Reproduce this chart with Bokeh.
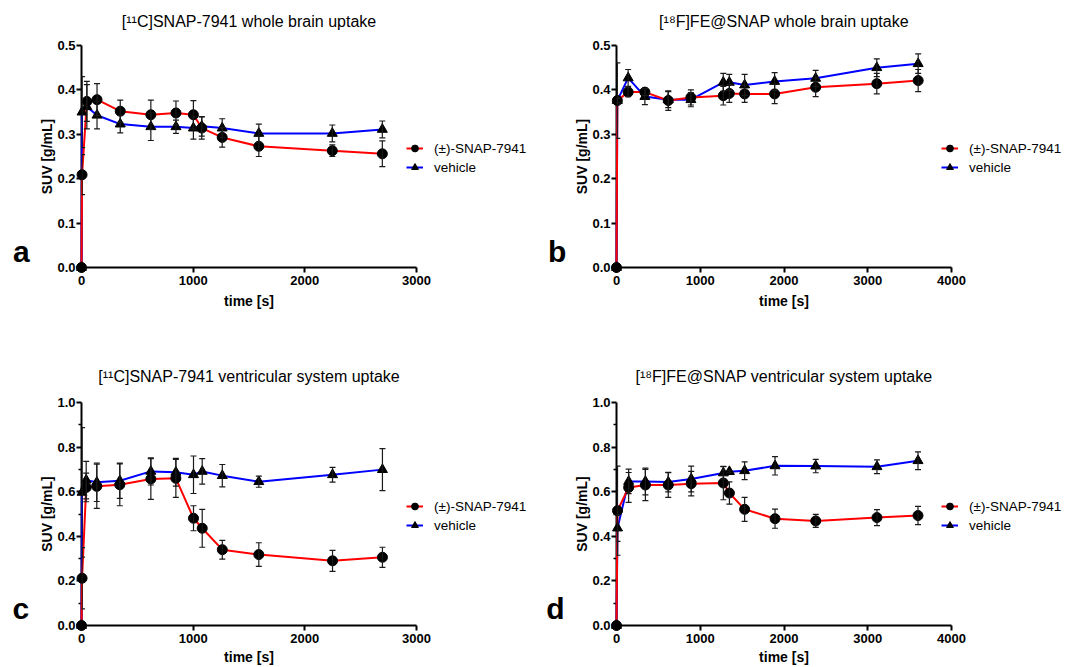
from bokeh.plotting import figure
from bokeh.layouts import column, row
from bokeh.models import (Range1d, FixedTicker, PrintfTickFormatter, Whisker, TeeHead,
                          ColumnDataSource, Label, Legend, LegendItem, Title)
from bokeh.embed import file_html
from bokeh.resources import INLINE

FONT = "Liberation Sans"
RED = "#ff0000"
BLUE = "#0000ff"

series_labels = ["(±)-SNAP-7941", "vehicle"]

# ---- panel a : [11C]SNAP-7941 whole brain ----
a_time = [0, 5, 48, 139, 347, 621, 846, 1002, 1077, 1260, 1588, 2246, 2694]
a_snap = [0.0, 0.209, 0.374, 0.378, 0.352, 0.344, 0.348, 0.344, 0.314, 0.293, 0.273, 0.263, 0.256]
a_snap_sd = [0.0, 0.045, 0.045, 0.036, 0.025, 0.033, 0.027, 0.032, 0.025, 0.022, 0.023, 0.013, 0.029]
a_veh = [0.0, 0.350, 0.362, 0.343, 0.323, 0.317, 0.317, 0.314, 0.318, 0.314, 0.302, 0.302, 0.311]
a_veh_sd = [0.0, 0.080, 0.050, 0.031, 0.020, 0.031, 0.015, 0.025, 0.022, 0.021, 0.021, 0.019, 0.019]

# ---- panel b : [18F]FE@SNAP whole brain ----
b_time = [0, 10, 139, 339, 618, 888, 1275, 1347, 1530, 1888, 2378, 3108, 3602]
b_snap = [0.0, 0.376, 0.395, 0.395, 0.376, 0.383, 0.387, 0.392, 0.391, 0.391, 0.406, 0.414, 0.421]
b_snap_sd = [0.0, 0.005, 0.010, 0.008, 0.022, 0.017, 0.021, 0.020, 0.019, 0.022, 0.021, 0.023, 0.025]
b_veh = [0.0, 0.376, 0.427, 0.385, 0.378, 0.378, 0.417, 0.417, 0.411, 0.419, 0.426, 0.450, 0.459]
b_veh_sd = [0.0, 0.085, 0.019, 0.018, 0.018, 0.016, 0.020, 0.018, 0.024, 0.020, 0.018, 0.020, 0.022]

# ---- panel c : [11C]SNAP-7941 ventricular system ----
c_time = [0, 5, 42, 137, 343, 621, 845, 1003, 1081, 1261, 1588, 2248, 2695]
c_snap = [0.0, 0.212, 0.619, 0.624, 0.631, 0.657, 0.660, 0.481, 0.436, 0.340, 0.318, 0.290, 0.306]
c_snap_sd = [0.0, 0.137, 0.064, 0.099, 0.094, 0.091, 0.085, 0.056, 0.085, 0.042, 0.053, 0.047, 0.045]
c_veh = [0.0, 0.597, 0.652, 0.642, 0.649, 0.691, 0.687, 0.676, 0.691, 0.672, 0.645, 0.676, 0.699]
c_veh_sd = [0.0, 0.290, 0.084, 0.086, 0.079, 0.061, 0.062, 0.084, 0.057, 0.050, 0.025, 0.033, 0.094]

# ---- panel d : [18F]FE@SNAP ventricular system ----
d_time = [0, 12, 145, 345, 618, 892, 1276, 1348, 1530, 1893, 2379, 3110, 3600]
d_snap = [0.0, 0.515, 0.619, 0.630, 0.630, 0.636, 0.639, 0.594, 0.521, 0.479, 0.469, 0.484, 0.493]
d_snap_sd = [0.0, 0.200, 0.067, 0.070, 0.055, 0.055, 0.075, 0.050, 0.054, 0.043, 0.029, 0.036, 0.041]
d_veh = [0.0, 0.437, 0.646, 0.646, 0.643, 0.657, 0.684, 0.690, 0.694, 0.716, 0.715, 0.712, 0.739]
d_veh_sd = [0.0, 0.060, 0.055, 0.060, 0.044, 0.058, 0.028, 0.005, 0.040, 0.041, 0.030, 0.031, 0.040]

titles = ["[¹¹C]SNAP-7941 whole brain uptake", "[¹⁸F]FE@SNAP whole brain uptake",
          "[¹¹C]SNAP-7941 ventricular system uptake", "[¹⁸F]FE@SNAP ventricular system uptake"]
letters = ["a", "b", "c", "d"]
x_ticks_11c = [0, 1000, 2000, 3000]
x_ticks_18f = [0, 1000, 2000, 3000, 4000]
y_ticks_top = [0.0, 0.1, 0.2, 0.3, 0.4, 0.5]
y_ticks_bottom = [0.0, 0.2, 0.4, 0.6, 0.8, 1.0]
y_minor_bottom = [0.1, 0.3, 0.5, 0.7, 0.9]
y_label = "SUV [g/mL]"
x_label = "time [s]"

# Arial / Liberation Sans Bold advance widths (1/1000 em), used to centre axis titles
BOLD_W = {"S": 667, "U": 722, "V": 667, " ": 278, "[": 333, "]": 333, "g": 611, "/": 278,
          "m": 889, "L": 611, "t": 333, "i": 278, "e": 556, "s": 556}


def text_width(s, size):
    return sum(BOLD_W[ch] for ch in s) * size / 1000.0


AXIS_PX = 335          # length of the drawn x axis in pixels


def whisker_source(t, v, sd):
    xs, lo, hi = [], [], []
    for ti, vi, si in zip(t, v, sd):
        if si > 0:
            xs.append(ti)
            lo.append(vi - si)
            hi.append(vi + si)
    return ColumnDataSource(dict(x=xs, lower=lo, upper=hi))


def letter_fig(letter, width, height, lx, ly):
    f = figure(frame_width=width, frame_height=height, output_backend="svg",
               toolbar_location=None, x_axis_type=None, y_axis_type=None,
               x_range=Range1d(0, width), y_range=Range1d(0, height),
               min_border=0, min_border_left=0, min_border_right=0,
               min_border_top=0, min_border_bottom=0)
    f.outline_line_color = None
    f.grid.visible = False
    f.add_layout(Label(x=lx, y=ly, text=letter, text_align="left", text_baseline="alphabetic",
                       text_font=FONT, text_font_size="30px", text_font_style="bold",
                       text_color="black"))
    return f


def panel(t, snap, snap_sd, veh, veh_sd, xticks, yticks, yminor, title,
          width, height, left, bottom, axis_top_px, xlab_standoff, title_off):
    frame_w = width - left
    frame_h = height - bottom
    axis_h = frame_h - axis_top_px
    x_end = xticks[-1] * frame_w / AXIS_PX
    y_end = yticks[-1] * frame_h / axis_h
    p = figure(width=width, height=height, output_backend="svg", toolbar_location=None,
               x_range=Range1d(xticks[0], x_end), y_range=Range1d(yticks[0], y_end),
               min_border_left=left, min_border_right=0,
               min_border_top=0, min_border_bottom=bottom)
    p.outline_line_color = None
    p.xgrid.visible = False
    p.ygrid.visible = False

    for ax in (p.xaxis[0], p.yaxis[0]):
        ax.axis_line_width = 2
        ax.axis_line_color = "black"
        ax.major_tick_line_width = 2
        ax.major_tick_line_color = "black"
        ax.major_tick_out = 5
        ax.major_tick_in = 0
        ax.minor_tick_in = 0
        ax.minor_tick_out = 3
        ax.minor_tick_line_width = 1.5
        ax.minor_tick_line_color = "black"
        ax.major_label_text_font = FONT
        ax.major_label_text_font_style = "bold"
        ax.major_label_text_font_size = "13px"
        ax.major_label_text_color = "black"

    p.xaxis.ticker = FixedTicker(ticks=xticks, minor_ticks=[])
    p.xaxis.formatter = PrintfTickFormatter(format="%d")
    p.xaxis.major_label_standoff = 3
    p.xaxis.bounds = (xticks[0], xticks[-1])
    p.yaxis.ticker = FixedTicker(ticks=yticks, minor_ticks=yminor)
    p.yaxis.formatter = PrintfTickFormatter(format="%.1f")
    p.yaxis.major_label_standoff = 1
    p.yaxis.bounds = (yticks[0], yticks[-1])

    # axis titles, centred on the drawn axes
    ylab_off = axis_h / 2 - text_width(y_label, 14) / 2
    p.add_layout(Title(text=y_label, align="left", offset=ylab_off, standoff=0,
                       text_font=FONT, text_font_size="14px", text_font_style="bold",
                       text_color="black"), "left")
    xlab_off = AXIS_PX / 2 - text_width(x_label, 14) / 2
    p.add_layout(Title(text=x_label, align="left", offset=xlab_off, standoff=xlab_standoff,
                       text_font=FONT, text_font_size="14px", text_font_style="bold",
                       text_color="black"), "below")

    blue_line = p.line(t, veh, line_color=BLUE, line_width=2, level="overlay")
    red_line = p.line(t, snap, line_color=RED, line_width=2, level="overlay")

    for src in (whisker_source(t, veh, veh_sd), whisker_source(t, snap, snap_sd)):
        w = Whisker(source=src, base="x", lower="lower", upper="upper",
                    line_color="#1a1a1a", line_width=1.2, level="overlay",
                    upper_head=TeeHead(size=6, line_color="#1a1a1a", line_width=1.2),
                    lower_head=TeeHead(size=6, line_color="#1a1a1a", line_width=1.2))
        p.add_layout(w)

    blue_pts = p.scatter(t, veh, marker="triangle", size=10, fill_color="black",
                         line_color="black", level="overlay")
    red_pts = p.scatter(t, snap, marker="circle", size=10, fill_color="black",
                        line_color="black", level="overlay")

    legend = Legend(items=[LegendItem(label=series_labels[0], renderers=[red_line, red_pts]),
                           LegendItem(label=series_labels[1], renderers=[blue_line, blue_pts])],
                    location=(325, 91), padding=0, margin=0, spacing=1,
                    glyph_width=17, glyph_height=18, label_height=18, label_standoff=11,
                    label_text_font=FONT, label_text_font_size="13.5px",
                    label_text_color="black",
                    border_line_color=None, background_fill_alpha=0)
    p.add_layout(legend)

    p.add_layout(Label(x=xticks[-1] / 2, y=yticks[-1], y_offset=title_off, text=title,
                       text_align="center", text_baseline="alphabetic", text_font=FONT,
                       text_font_size="16px", text_color="black"))
    return p


fa = letter_fig(letters[0], 34, 330, 12.6, 79)
pa = panel(a_time, a_snap, a_snap_sd, a_veh, a_veh_sd, x_ticks_11c, y_ticks_top, [],
           titles[0], 506, 330, 47, 63, 45, 6, 24)
fb = letter_fig(letters[1], 28, 330, 7.4, 79)
pb = panel(b_time, b_snap, b_snap_sd, b_veh, b_veh_sd, x_ticks_18f, y_ticks_top, [],
           titles[1], 512, 330, 48, 63, 45, 6, 24)
fc = letter_fig(letters[2], 34, 336, 12, 58)
pc = panel(c_time, c_snap, c_snap_sd, c_veh, c_veh_sd, x_ticks_11c, y_ticks_bottom, y_minor_bottom,
           titles[2], 506, 336, 47, 41, 72, 2, 26)
fd = letter_fig(letters[3], 28, 336, 5.7, 58)
pd = panel(d_time, d_snap, d_snap_sd, d_veh, d_veh_sd, x_ticks_18f, y_ticks_bottom, y_minor_bottom,
           titles[3], 512, 336, 48, 41, 72, 2, 26)

layout = column(row(fa, pa, fb, pb), row(fc, pc, fd, pd))
open("out.html", "w").write(file_html(layout, INLINE))
